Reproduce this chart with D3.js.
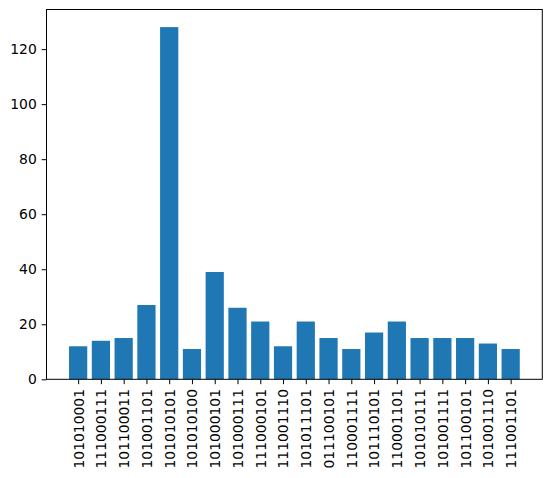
<!DOCTYPE html>
<html><head><meta charset="utf-8">
<script src="https://cdn.jsdelivr.net/npm/d3@7"></script>
<style>html,body{margin:0;padding:0;background:#fff;}svg{display:block;}</style>
</head><body>
<script>
const categories = ["101010001","111000111","101100011","101001101","101010101","101010100","101000101","101000111","111000101","111001110","101011101","011100101","110001111","101110101","110001101","101010111","101001111","101100101","101001110","111001101"];
const values = [12,14,15,27,128,11,39,26,21,12,21,15,11,17,21,15,15,15,13,11];
const yTicks = [0,20,40,60,80,100,120];

const W = 552, H = 478;
const mLeft = 46.5, mRight = 542.3, mTop = 9.5, mBottom = 379.3;
const svg = d3.select("body").append("svg").attr("width", W).attr("height", H);

const n = categories.length;
const x = d3.scaleLinear().domain([-0.4 - 0.05*(n-0.2), n-1+0.4 + 0.05*(n-0.2)]).range([mLeft, mRight]);
const y = d3.scaleLinear().domain([0, d3.max(values)*1.05]).range([mBottom, mTop]);

svg.append("g").selectAll("rect").data(values).join("rect")
  .attr("x", (d,i) => x(i-0.4)).attr("width", (d,i) => x(i+0.4)-x(i-0.4))
  .attr("y", d => y(d)).attr("height", d => y(0)-y(d))
  .attr("fill", "#1f77b4");

const font = "DejaVu Sans, sans-serif";
const ya = svg.append("g").attr("transform", `translate(${mLeft},0)`)
  .call(d3.axisLeft(y).tickValues(yTicks).tickSize(4.86).tickPadding(4.86).tickSizeOuter(0));
ya.select(".domain").remove();
ya.selectAll("text").attr("font-family", font).attr("font-size", 13.9).attr("fill", "#000");
ya.selectAll("line").attr("stroke", "#000").attr("stroke-width", 1);

const xa = svg.append("g").attr("transform", `translate(0,${mBottom})`)
  .call(d3.axisBottom(x).tickValues(d3.range(n)).tickFormat(i => categories[i]).tickSize(4.86).tickSizeOuter(0));
xa.select(".domain").remove();
xa.selectAll("line").attr("stroke", "#000").attr("stroke-width", 1);
xa.selectAll("text").attr("font-family", font).attr("font-size", 13.9).attr("fill", "#000")
  .attr("transform", "rotate(-90)").attr("text-anchor", "end").attr("x", -9.7).attr("y", 0).attr("dy", "0.35em");

svg.append("rect").attr("x", mLeft).attr("y", mTop).attr("width", mRight-mLeft).attr("height", mBottom-mTop)
  .attr("fill", "none").attr("stroke", "#000").attr("stroke-width", 1);
</script>
</body></html>
